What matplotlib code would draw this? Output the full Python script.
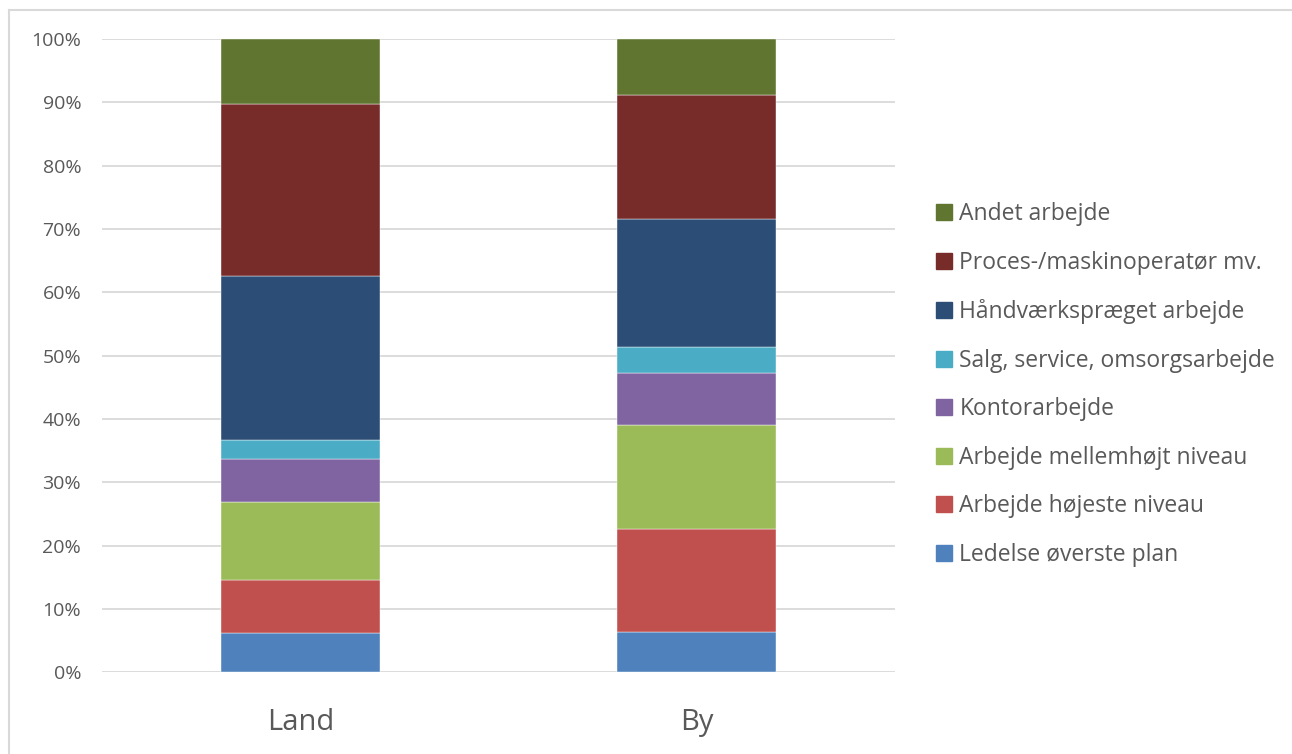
import matplotlib
matplotlib.use("Agg")
from matplotlib import pyplot as plt
from matplotlib.lines import Line2D
import numpy as np

categories = ["Land", "By"]
series = ["Ledelse øverste plan", "Arbejde højeste niveau", "Arbejde mellemhøjt niveau",
          "Kontorarbejde", "Salg, service, omsorgsarbejde", "Håndværkspræget arbejde",
          "Proces-/maskinoperatør mv.", "Andet arbejde"]
land = [6.2, 8.4, 12.3, 6.8, 3.0, 25.8, 27.2, 10.3]
by = [6.3, 16.4, 16.3, 8.3, 4.1, 20.2, 19.6, 8.8]
colors = ["#4F81BD", "#C0504D", "#9BBB59", "#8064A2", "#4BACC6", "#2C4D75", "#772C2A", "#5F7530"]

plt.rcParams["font.family"] = ["Open Sans", "DejaVu Sans"]
grey = "#595959"

fig = plt.figure(figsize=(12.92, 7.54), dpi=100)
ax = fig.add_axes([102 / 1292, 1 - 672.3 / 754, 793 / 1292, 633.3 / 754])

values = np.array([land, by])
totals = values.sum(axis=1, keepdims=True)
shares = values / totals
x = np.arange(len(categories))
bottom = np.zeros(len(categories))
for i, name in enumerate(series):
    ax.bar(x, shares[:, i], 0.4, bottom=bottom, color=colors[i], label=name,
           edgecolor="#ffffff", linewidth=0.3, zorder=3)
    bottom += shares[:, i]

ax.set_xlim(-0.5, 1.5)
ax.set_ylim(0, 1)
ticks = np.arange(0, 1.01, 0.1)
ax.set_yticks(ticks)
ax.set_yticklabels([f"{int(round(t * 100))}%" for t in ticks])
ax.set_xticks(x)
ax.set_xticklabels(categories)
ax.tick_params(axis="y", length=0, pad=15, labelsize=14, labelcolor=grey)
ax.tick_params(axis="x", length=0, pad=26, labelsize=21, labelcolor=grey)
ax.grid(axis="y", color="#D9D9D9", linewidth=1.3, zorder=0)
for s in ax.spines.values():
    s.set_visible(False)

handles = [Line2D([0], [0], marker="s", linestyle="", markersize=11,
                  markerfacecolor=c, markeredgecolor=c) for c in colors]
leg = fig.legend(handles[::-1], series[::-1], loc="center left",
                 bbox_to_anchor=(935 / 1292, 1 - 384.5 / 754), frameon=False,
                 fontsize=16.5, labelcolor=grey, handlelength=0.8, handletextpad=0.26,
                 labelspacing=1.07, borderpad=0, borderaxespad=0)

# chart area border (top and left edges)
fig.add_artist(Line2D([9 / 1292, 1], [1 - 10 / 754, 1 - 10 / 754], color="#D9D9D9", linewidth=1.5))
fig.add_artist(Line2D([9 / 1292, 9 / 1292], [0, 1 - 10 / 754], color="#D9D9D9", linewidth=1.5))

fig.savefig("out.png", dpi=100)
